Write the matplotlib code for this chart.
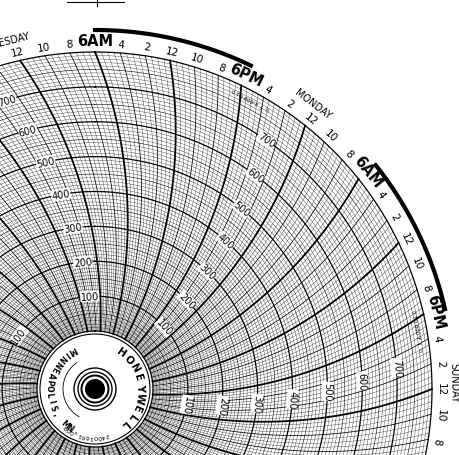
import numpy as np
import matplotlib.pyplot as plt

# chart scale values
value_labels = [100, 200, 300, 400, 500, 600, 700]
day_names = ["TUESDAY", "MONDAY", "SUNDAY", "SATURDAY", "FRIDAY", "THURSDAY", "WEDNESDAY"]
hub_brand = "HONEYWELL"
hub_city = "MINNEAPOLIS, MN."
hub_part = "24001661-009"
range_note = "0 TO 800°F  J  ½"

V_MAX = 800
R_HUB = 58.0
R_OUT = 337.0
ARM = 450.0   # pen arm radius -> curved time lines
DEG_PER_HOUR = 360.0 / 168.0
XLIM = (-95, 364)
YLIM = (-66, 390)


def rad(v):
    return R_HUB + (R_OUT - R_HUB) * v / V_MAX


def line_theta(theta0, r):
    # angle (deg, clockwise from up) of a time arc at radius r
    return theta0 + np.degrees(np.arcsin(R_OUT / (2 * ARM)) - np.arcsin(r / (2 * ARM)))


def xy(theta, r):
    t = np.radians(theta)
    return r * np.sin(t), r * np.cos(t)


def visible(x, y, m=6):
    return XLIM[0] + m < x < XLIM[1] - m and YLIM[0] + m < y < YLIM[1] - m


fig = plt.figure(figsize=(4.59, 4.56), dpi=100)
ax = fig.add_axes([0, 0, 1, 1])
ax.set_xlim(*XLIM)
ax.set_ylim(*YLIM)
ax.set_aspect("equal")
ax.axis("off")

full = np.linspace(0, 360, 1440)

# value circles
for v in range(0, V_MAX + 1, 10):
    lw = 0.9 if v % 100 == 0 else (0.4 if v % 50 == 0 else 0.22)
    x, y = xy(full, rad(v))
    ax.plot(x, y, color="black", lw=lw)

# time arcs every 30 minutes
rs = np.linspace(R_HUB, R_OUT, 80)
for i in range(336):
    th0 = i * 0.5 * DEG_PER_HOUR
    if i % 12 == 0:
        lw = 1.3
    elif i % 4 == 0:
        lw = 0.55
    else:
        lw = 0.22
    x, y = xy(line_theta(th0, rs), rs)
    ax.plot(x, y, color="black", lw=lw)


def put(th, r, txt, m=6, **kw):
    x, y = xy(th, r)
    if visible(x, y, m):
        ax.text(x, y, txt, rotation=-th, ha="center", va="center",
                rotation_mode="anchor", **kw)


# hour labels around the rim
for k in range(84):
    th = k * 2 * DEG_PER_HOUR
    h = (6 - 2 * k) % 12
    h = 12 if h == 0 else h
    if h == 6:
        txt = "6AM" if (k // 6) % 2 == 0 else "6PM"
        put(th, 349, txt, fontsize=10.5, fontweight="bold")
    else:
        put(th, 346, str(h), fontsize=7.5)

# day names and daytime arcs
for d, name in enumerate(day_names):
    put((-3 + 12 * d) * 2 * DEG_PER_HOUR - 1.2, 359, name, m=1, fontsize=7)
    a = np.linspace(12 * d * 2 * DEG_PER_HOUR, (12 * d + 6) * 2 * DEG_PER_HOUR, 100)
    x, y = xy(a, 359)
    ax.plot(x, y, color="black", lw=3)
    put((12 * d + 6.6) * 2 * DEG_PER_HOUR, 327, range_note, fontsize=3.8)

# value labels along one arc per day
for d in range(7):
    th0 = -19.3 + d * 360.0 / 7
    for v in value_labels:
        r = rad(v)
        put(line_theta(th0, r), r, str(v), fontsize=7,
            bbox=dict(facecolor="white", edgecolor="none", pad=0.3))

# hub
ax.add_patch(plt.Circle((0, 0), 55, facecolor="white", edgecolor="black", lw=0.8, zorder=5))
for r, lw in [(21, 1.0), (17, 1.0), (13.5, 1.4)]:
    ax.add_patch(plt.Circle((0, 0), r, facecolor="none", edgecolor="black", lw=lw, zorder=6))
ax.add_patch(plt.Circle((0, 0), 10, facecolor="black", zorder=6))
a = np.linspace(-150, -35, 60)
x, y = xy(a, 32)
ax.plot(x, y, color="black", lw=0.6, zorder=6)


def ring_text(s, start, stop, r, fs, fw, outward):
    angs = np.linspace(start, stop, len(s))
    for ch, th in zip(s, angs):
        x, y = xy(th, r)
        rot = -th if outward else -th - 180
        ax.text(x, y, ch, fontsize=fs, fontweight=fw, rotation=rot, ha="center",
                va="center", rotation_mode="anchor", zorder=7)


ring_text(hub_brand, 35, 140, 45, 7.5, "bold", True)
ring_text(hub_city, -30, -155, 46, 5.5, "bold", False)
ring_text(hub_part, 165, 218, 47, 4.5, "normal", True)

# top cross mark
ax.plot([-28, 29], [387, 387], color="black", lw=0.8)
ax.plot([2, 2], [383, 390], color="black", lw=0.8)

fig.savefig("out.png", dpi=100)
